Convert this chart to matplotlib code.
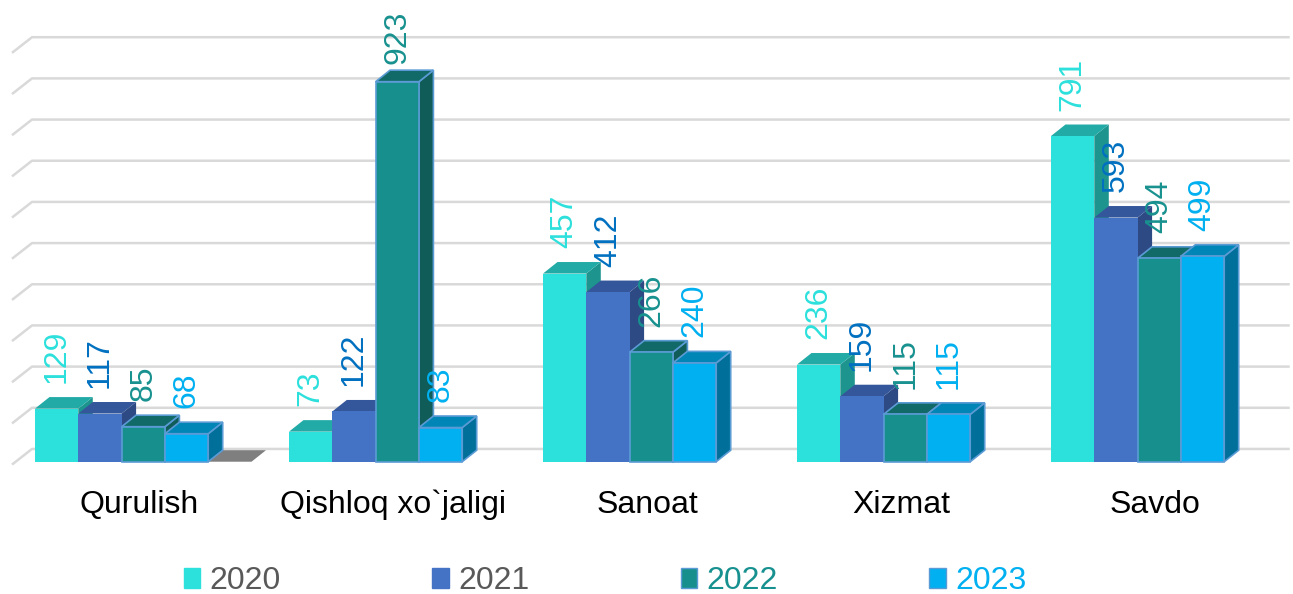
import matplotlib.pyplot as plt
from matplotlib.patches import Polygon, Patch

plt.rcParams['font.family'] = ['Liberation Sans', 'DejaVu Sans']

categories = ['Qurulish', 'Qishloq xo`jaligi', 'Sanoat', 'Xizmat', 'Savdo']
years = ['2020', '2021', '2022', '2023']
v2020 = [129, 73, 457, 236, 791]
v2021 = [117, 122, 412, 159, 593]
v2022 = [85, 923, 266, 115, 494]
v2023 = [68, 83, 240, 115, 499]
series = [v2020, v2021, v2022, v2023]

# front, top, side, edge, label colour
front = ['#2CE1DC', '#4472C4', '#17908D', '#00B0F0']
top = ['#22ABA6', '#34569A', '#116A67', '#0086B6']
side = ['#1E948F', '#2E4A85', '#0F5C59', '#00709A']
edge = [None, None, '#5B9BD5', '#5B9BD5']
lab_col = ['#2CE0DC', '#0070C0', '#17918F', '#00B0F0']
leg_col = ['#595959', '#595959', '#17918F', '#00B0F0']

w = 0.1705   # bar width in category units
dx = 0.057   # depth shift x
dy = 28      # depth shift y (value units)
fs = 23

fig = plt.figure(figsize=(12.93, 5.94), dpi=100)
ax = fig.add_axes([0, 0, 1, 1])
ax.set_xlim(-35 / 254, 1258 / 254)
ax.set_ylim(-321.3, 1121.4)
ax.axis('off')

# back wall gridlines with slanted left edge
for k in range(11):
    yb = 100 * k + 31
    ax.plot([-0.0906, -0.0118, 4.94], [yb - 38, yb, yb], color='#D9D9D9',
            lw=1.8, solid_capstyle='butt', zorder=1)

# stray zero-height floor piece after Qurulish
x0 = 4 * w
ax.add_patch(Polygon([(x0, 0), (x0 + w, 0), (x0 + w + dx, dy), (x0 + dx, dy)],
                     closed=True, fc='#7F7F7F', ec='none', zorder=2))

for i in range(len(categories)):
    for j, vals in enumerate(series):
        v = vals[i]
        x0 = i + j * w
        x1 = x0 + w
        ec = edge[j] if edge[j] else 'none'
        lw = 1.2 if edge[j] else 0
        ax.add_patch(Polygon([(x1, 0), (x1 + dx, dy), (x1 + dx, v + dy), (x1, v)],
                             closed=True, fc=side[j], ec=ec, lw=lw, zorder=3))
        ax.add_patch(Polygon([(x0, v), (x1, v), (x1 + dx, v + dy), (x0 + dx, v + dy)],
                             closed=True, fc=top[j], ec=ec, lw=lw, zorder=3))
        ax.add_patch(Polygon([(x0, 0), (x1, 0), (x1, v), (x0, v)],
                             closed=True, fc=front[j], ec=ec, lw=lw, zorder=3))

for i in range(len(categories)):
    for j, vals in enumerate(series):
        v = vals[i]
        ax.text(i + j * w + w / 2, min(v + 62, 966), str(v), rotation=90,
                ha='center', va='bottom', fontsize=fs, color=lab_col[j], zorder=5)
    ax.text(i + 0.41, -124.6, categories[i], ha='center', va='baseline',
            fontsize=fs, color='black')

handles = [Patch(fc=front[j], ec=edge[j] if edge[j] else front[j], lw=1) for j in range(4)]
leg = fig.legend(handles, years, loc='center', bbox_to_anchor=(0.468, 0.022), ncol=4,
                 frameon=False, fontsize=fs, handlelength=0.52, handleheight=0.6,
                 handletextpad=0.3, columnspacing=4.73, borderpad=0)
for t, c in zip(leg.get_texts(), leg_col):
    t.set_color(c)

fig.savefig('out.png', dpi=100)
